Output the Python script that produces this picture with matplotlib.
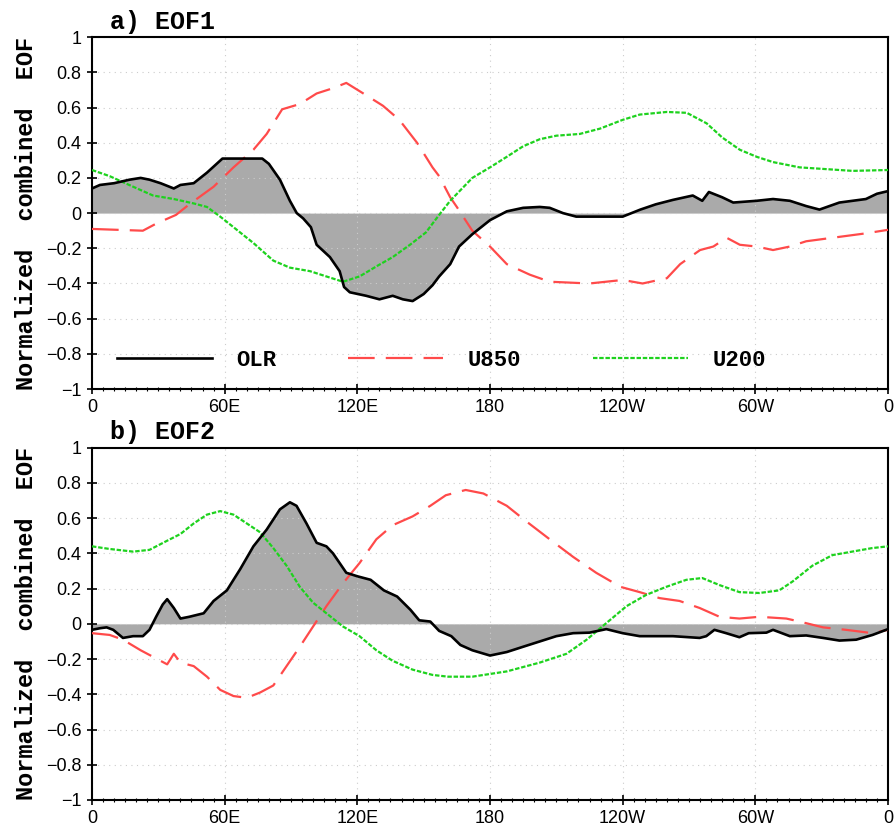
import numpy as np
import matplotlib
matplotlib.use('Agg')
import matplotlib.pyplot as plt

# ---- data (longitude in degrees east, 0..360) ----
xticks = [0, 60, 120, 180, 240, 300, 360]
xticklabels = ['0', '60E', '120E', '180', '120W', '60W', '0']

# a) EOF1
lon_a_olr = [0, 3.6, 10, 17, 22, 26, 31, 37, 40, 46, 52, 59, 64, 77, 80, 85, 89.5, 92.6, 95.5, 99,
             101.6, 107.6, 112, 114, 116.6, 124, 130, 136, 140.6, 145, 150, 154, 157, 162, 166, 172,
             180, 187.6, 195, 202.5, 207, 213, 219, 240, 248, 255, 262.7, 271.7, 276, 279, 285, 290,
             300.6, 308, 315.6, 323, 329, 338, 350, 355, 360]
olr_a = [0.14, 0.16, 0.17, 0.19, 0.20, 0.19, 0.17, 0.14, 0.16, 0.17, 0.23, 0.31, 0.31, 0.31, 0.28,
         0.19, 0.07, 0.0, -0.03, -0.08, -0.18, -0.25, -0.33, -0.42, -0.45, -0.47, -0.49, -0.47,
         -0.49, -0.50, -0.46, -0.41, -0.36, -0.29, -0.19, -0.12, -0.04, 0.01, 0.03, 0.035, 0.03,
         0.0, -0.02, -0.02, 0.02, 0.05, 0.075, 0.10, 0.07, 0.12, 0.09, 0.06, 0.07, 0.08, 0.07,
         0.04, 0.02, 0.06, 0.08, 0.11, 0.125]

lon_a_u850 = [0, 23, 29, 38, 44, 55, 64, 73, 79, 86, 94, 101.6, 109, 115, 124, 131.6, 139, 147,
              154, 157, 162, 165, 172, 180, 187.6, 198, 207, 225, 240, 249, 260, 266, 275, 281,
              287, 293, 300.6, 308, 315.6, 323, 338, 350, 360]
u850_a = [-0.09, -0.10, -0.06, -0.01, 0.05, 0.15, 0.26, 0.36, 0.45, 0.59, 0.62, 0.68, 0.71, 0.74,
          0.67, 0.61, 0.53, 0.40, 0.26, 0.21, 0.09, 0.035, -0.10, -0.19, -0.29, -0.35, -0.39,
          -0.40, -0.38, -0.40, -0.37, -0.29, -0.21, -0.19, -0.14, -0.18, -0.19, -0.21, -0.19,
          -0.16, -0.135, -0.115, -0.095]

lon_a_u200 = [0, 8, 18.6, 27.6, 37, 46, 52, 58, 64, 73, 82, 89.5, 98.6, 106, 113.5, 121, 129, 136,
              143.8, 151, 157, 162, 172, 180, 187.6, 195, 202.5, 210, 220.6, 229.7, 240, 247.7,
              260, 269, 278, 285, 293, 300.6, 308, 320, 332, 344, 360]
u200_a = [0.245, 0.21, 0.15, 0.10, 0.08, 0.055, 0.035, -0.02, -0.08, -0.17, -0.27, -0.31, -0.33,
          -0.36, -0.39, -0.36, -0.30, -0.25, -0.18, -0.11, -0.01, 0.07, 0.20, 0.26, 0.32, 0.38,
          0.42, 0.44, 0.45, 0.48, 0.53, 0.56, 0.575, 0.57, 0.51, 0.43, 0.36, 0.32, 0.29, 0.26,
          0.25, 0.24, 0.245]

# b) EOF2
lon_b_olr = [0, 3.6, 6.6, 9.6, 14, 18.6, 23, 26, 29, 32, 34, 37, 40, 44, 50.5, 55, 61, 67, 73, 79,
             85, 89.5, 92.5, 97, 101.6, 106, 109, 115, 120, 126, 132, 138, 144, 148, 153, 157,
             162.5, 166.6, 172, 180, 187.6, 195, 202.5, 210, 217.6, 225, 232.6, 240, 247.7, 262.7,
             274.8, 277.8, 281.5, 286.8, 292.8, 297, 305, 308, 315.6, 323, 330.6, 338, 345.6, 353,
             360]
olr_b = [-0.034, -0.025, -0.02, -0.034, -0.08, -0.07, -0.07, -0.034, 0.04, 0.11, 0.14, 0.09, 0.03,
         0.04, 0.06, 0.13, 0.19, 0.31, 0.44, 0.535, 0.65, 0.69, 0.67, 0.57, 0.46, 0.44, 0.40, 0.29,
         0.27, 0.25, 0.19, 0.155, 0.08, 0.02, 0.013, -0.04, -0.07, -0.12, -0.15, -0.18, -0.16,
         -0.13, -0.10, -0.07, -0.053, -0.05, -0.03, -0.053, -0.07, -0.07, -0.08, -0.07, -0.034,
         -0.053, -0.076, -0.053, -0.05, -0.034, -0.07, -0.066, -0.08, -0.095, -0.09, -0.063, -0.03]

lon_b_u850 = [0, 8, 14, 22, 28, 34, 37, 40, 46, 52, 58, 64, 70, 76, 82, 88, 94, 100, 106, 113.5,
              121, 128.6, 136, 145, 153, 160, 169, 177, 187.6, 196.6, 207, 217.6, 228, 239, 247.7,
              256.7, 265.7, 274.8, 283.8, 292.8, 301.8, 314, 320, 330.6, 341, 353, 360]
u850_b = [-0.053, -0.063, -0.09, -0.15, -0.19, -0.23, -0.17, -0.22, -0.24, -0.30, -0.375, -0.41,
          -0.42, -0.39, -0.35, -0.24, -0.13, -0.015, 0.10, 0.23, 0.345, 0.48, 0.56, 0.61, 0.67,
          0.73, 0.76, 0.74, 0.67, 0.58, 0.48, 0.38, 0.29, 0.21, 0.18, 0.146, 0.13, 0.09, 0.04,
          0.03, 0.04, 0.03, 0.013, -0.02, -0.034, -0.053, -0.034]

lon_b_u200 = [0, 8, 18.6, 26, 33.7, 40, 46, 52, 58, 64, 70, 76, 82, 88, 94, 100, 106, 113.5, 121,
              128.6, 136, 145, 154, 161, 172, 187.6, 202.5, 214.6, 223.7, 232.6, 241.7, 250.7,
              259.7, 268.8, 276, 283.8, 292.8, 301.8, 310.8, 316.8, 325.8, 334.8, 343.8, 352.8, 360]
u200_b = [0.44, 0.425, 0.41, 0.42, 0.47, 0.51, 0.57, 0.62, 0.64, 0.62, 0.57, 0.52, 0.43, 0.33, 0.21,
          0.12, 0.06, -0.015, -0.07, -0.15, -0.21, -0.26, -0.29, -0.30, -0.30, -0.27, -0.22, -0.17,
          -0.09, 0.004, 0.10, 0.165, 0.21, 0.25, 0.26, 0.22, 0.18, 0.175, 0.19, 0.24, 0.33, 0.39,
          0.41, 0.43, 0.44]

panels = [
    ('a) EOF1', lon_a_olr, olr_a, lon_a_u850, u850_a, lon_a_u200, u200_a),
    ('b) EOF2', lon_b_olr, olr_b, lon_b_u850, u850_b, lon_b_u200, u200_b),
]

tick_font = ['Liberation Sans Narrow', 'Liberation Sans', 'DejaVu Sans']
mono_font = ['Liberation Mono', 'DejaVu Sans Mono']
red = '#ff4a4a'
green = '#1ed21e'

fig = plt.figure(figsize=(8.94, 8.26), dpi=100)
boxes = [[0.1029, 0.529, 0.8904, 0.426], [0.1029, 0.0315, 0.8904, 0.4265]]

for box, (title, lo, olr, lu, u850, lg, u200) in zip(boxes, panels):
    ax = fig.add_axes(box)
    lo = np.array(lo)
    olr = np.array(olr)
    ax.fill_between(lo, olr, 0, color='#aaaaaa', lw=0, interpolate=True, zorder=1)
    ax.plot(lo, olr, color='black', lw=1.9, label='OLR', zorder=4)
    ax.plot(lu, u850, color=red, lw=1.6, dashes=(12, 5), label='U850', zorder=3)
    ax.plot(lg, u200, color=green, lw=1.6, dashes=(2, 0.8), label='U200', zorder=3)

    ax.set_xlim(0, 360)
    ax.set_ylim(-1, 1)
    ax.set_xticks(xticks)
    ax.set_xticklabels(xticklabels)
    ax.set_xticks(np.arange(0, 361, 5), minor=True)
    ax.set_yticks(np.arange(-1, 1.01, 0.2))
    ax.set_yticklabels(['\u22121', '\u22120.8', '\u22120.6', '\u22120.4', '\u22120.2', '0',
                        '0.2', '0.4', '0.6', '0.8', '1'])
    ax.grid(True, which='major', color='#cccccc', lw=0.8, ls=(0, (1, 4)))
    ax.tick_params(which='major', direction='inout', length=7, width=1.2, labelsize=13,
                   pad=4, top=False, right=False)
    ax.tick_params(which='minor', axis='x', direction='inout', length=3, width=0.8)
    for lab in ax.get_xticklabels() + ax.get_yticklabels():
        lab.set_family(tick_font)
    for sp in ax.spines.values():
        sp.set_linewidth(1.5)

    ax.set_ylabel('Normalized  combined  EOF', family=mono_font, fontweight='bold',
                  fontsize=17, labelpad=6)
    ax.text(0.022, 1.01, title, transform=ax.transAxes, family=mono_font, fontweight='bold',
            fontsize=18, ha='left', va='bottom')

    if title.startswith('a'):
        ax.legend(loc='center left', bbox_to_anchor=(0.031, 0.082), ncol=3, frameon=False,
                  borderpad=0, borderaxespad=0, handlelength=4.3, handletextpad=1.1,
                  columnspacing=3.2, prop={'family': mono_font, 'weight': 'bold', 'size': 16})

fig.savefig('out.png', dpi=100)
